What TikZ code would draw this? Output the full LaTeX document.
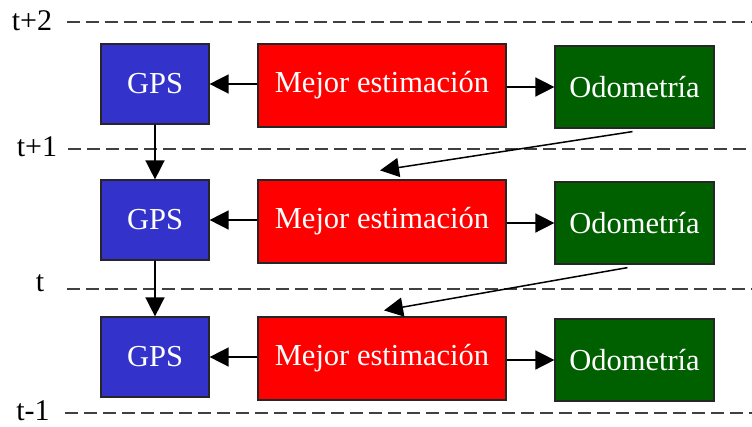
\documentclass[tikz,border=0pt]{standalone}
\usepackage{fontspec}
\setmainfont{Liberation Serif}
\usetikzlibrary{arrows.meta,calc}
\definecolor{gpsblue}{HTML}{3333CC}
\definecolor{estred}{HTML}{FF0000}
\definecolor{odogreen}{HTML}{006000}
\definecolor{dashgray}{HTML}{404040}
\tikzset{
  box/.style={draw=black!85, line width=1.2pt, text=white, inner sep=0pt, font=\fontsize{30.5}{33}\selectfont},
  gpsbox/.style={box, fill=gpsblue, minimum width=108pt, minimum height=80pt},
  estbox/.style={box, fill=estred, minimum width=248pt, minimum height=83pt},
  odobox/.style={box, fill=odogreen, minimum width=159pt, minimum height=82pt},
  arr/.style={line width=1.5pt, -{Triangle[length=19pt,width=19pt]}},
  timeline/.style={draw=dashgray, line width=2pt, dash pattern=on 13pt off 6pt},
  tlabel/.style={font=\fontsize{30}{33}\selectfont, inner sep=0pt}
}
\begin{document}
\begin{tikzpicture}[x=1pt,y=-1pt]
\useasboundingbox (0,0) rectangle (752,426);
% time lines
\draw[timeline] (67,22) -- (752,22);
\draw[timeline] (68,149) -- (752,149);
\draw[timeline] (67,289) -- (752,289);
\draw[timeline] (65,413) -- (752,413);
\node[tlabel] (l2) at (32,21) {t+2};
\node[tlabel] (l1) at (37,147) {t+1};
\node[tlabel] (l0) at (40,283) {t};
\node[tlabel] (lm) at (33,411) {t-1};
% rows
\foreach \i/\dy in {1/0,2/136,3/273}{
  \node[gpsbox] (g\i) at (155,84+\dy) {GPS};
  \node[estbox] (r\i) at (382,85.5+\dy) {Mejor estimación};
  \node[odobox] (o\i) at (634.5,87+\dy) {Odometría};
  \draw[arr] (r\i.west |- g\i.east) -- (g\i.east);
  \draw[arr] (r\i.east |- o\i.west) -- (o\i.west);
}
\draw[arr] (g1.south) -- (g2.north);
\draw[arr] (g2.south) -- (g3.north);
\draw[arr] ([xshift=-2pt,yshift=-3pt]o1.south) -- ([xshift=-2pt,yshift=9pt]r2.north);
\draw[arr] ([xshift=-7pt,yshift=-3pt]o2.south) -- ([xshift=2pt,yshift=6pt]r3.north);
\end{tikzpicture}
\end{document}
